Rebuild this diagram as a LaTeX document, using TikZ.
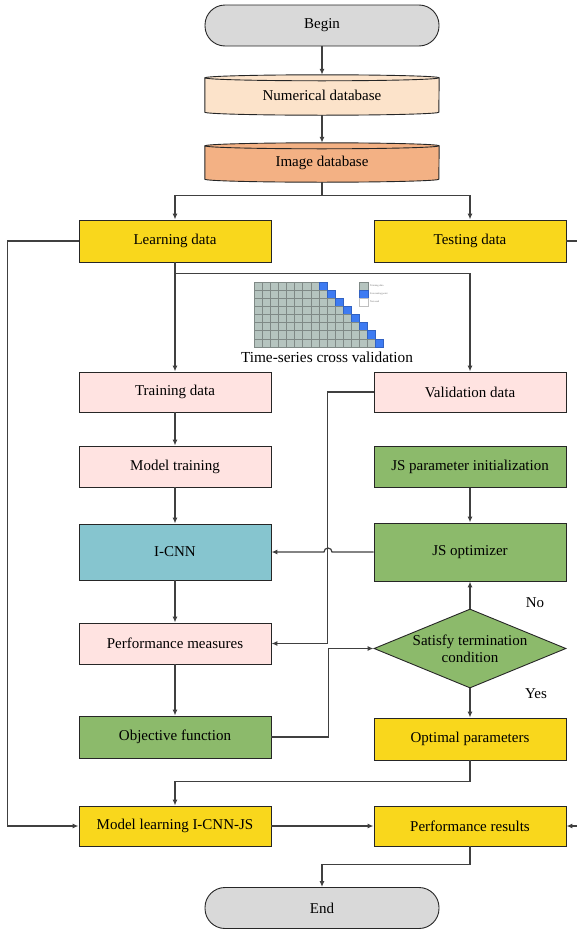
\documentclass[tikz,border=0pt]{standalone}
\usepackage{fontspec}
\setmainfont{Liberation Serif}
\usetikzlibrary{shapes.geometric,arrows.meta,backgrounds}
\definecolor{termc}{HTML}{D9D9D9}
\definecolor{numc}{HTML}{FCE3CA}
\definecolor{imgc}{HTML}{F3B184}
\definecolor{yelc}{HTML}{F9D71C}
\definecolor{pinkc}{HTML}{FFE3E1}
\definecolor{grnc}{HTML}{8CBA6B}
\definecolor{bluec}{HTML}{86C5CF}
\definecolor{linec}{HTML}{404040}
\definecolor{cellg}{HTML}{B5C4BF}
\definecolor{cellb}{HTML}{3E7BF2}
\begin{document}
\begin{tikzpicture}[x=1pt,y=1pt,
  font=\fontsize{15}{17}\selectfont,
  box/.style={draw=black!85, line width=0.9pt, minimum width=192pt, minimum height=41pt, inner sep=2pt, align=center},
  term/.style={draw=black!85, line width=0.9pt, fill=termc, minimum width=234pt, minimum height=41pt, rounded corners=20pt},
  dbnode/.style={minimum width=234pt, inner sep=0pt},
  conn/.style={draw=linec, line width=1.2pt},
  arr/.style={conn, -{Latex[length=6pt,width=5pt]}},
  lbl/.style={inner sep=0pt}
]
\useasboundingbox (0,0) rectangle (577,-929);

% terminals
\node[term] (begin) at (322,-25.5) {Begin};
\node[term] (end) at (322,-908) {End};

% cylinders
\node[dbnode, minimum height=34pt] (num) at (322,-95) {Numerical database};
\node[dbnode, minimum height=33pt] (img) at (322,-162.5) {Image database};
\begin{scope}[on background layer]
  \filldraw[fill=numc, draw=black!85, line width=0.9pt]
    (num.north west) -- (num.south west)
    arc[start angle=180, end angle=360, x radius=117pt, y radius=3pt]
    -- (num.north east)
    arc[start angle=0, end angle=180, x radius=117pt, y radius=3pt] -- cycle;
  \draw[black!85, line width=0.9pt] (num.north west)
    arc[start angle=180, end angle=360, x radius=117pt, y radius=3pt];
  \filldraw[fill=imgc, draw=black!85, line width=0.9pt]
    (img.north west) -- (img.south west)
    arc[start angle=180, end angle=360, x radius=117pt, y radius=3pt]
    -- (img.north east)
    arc[start angle=0, end angle=180, x radius=117pt, y radius=3pt] -- cycle;
  \draw[black!85, line width=0.9pt] (img.north west)
    arc[start angle=180, end angle=360, x radius=117pt, y radius=3pt];
\end{scope}

% boxes
\node[box, fill=yelc, minimum height=42pt] (learn) at (175,-241) {Learning data};
\node[box, fill=yelc, minimum height=42pt] (test) at (470,-241) {Testing data};
\node[box, fill=pinkc, minimum height=40pt] (train) at (175,-392) {Training data};
\node[box, fill=pinkc, minimum height=40pt] (valid) at (470,-392) {Validation data};
\node[box, fill=pinkc] (mtrain) at (175,-466.5) {Model training};
\node[box, fill=grnc] (jsinit) at (470,-467) {JS parameter initialization};
\node[box, fill=bluec, minimum height=56pt] (icnn) at (175,-552) {I-CNN};
\node[box, fill=grnc, minimum height=58pt] (jsopt) at (470,-552) {JS optimizer};
\node[box, fill=pinkc] (perfm) at (175,-643.5) {Performance measures};
\node[draw=black!85, line width=0.9pt, fill=grnc, shape=diamond, aspect=2.43, inner sep=0pt,
      minimum width=192pt, minimum height=79pt, align=center] (diam) at (470,-648.5)
      {Satisfy termination\\condition};
\node[box, fill=grnc, minimum height=42pt] (obj) at (175,-737) {Objective function};
\node[box, fill=yelc, minimum height=42pt] (opt) at (470,-739) {Optimal parameters};
\node[box, fill=yelc, minimum height=40pt] (mlearn) at (175,-826) {Model learning I-CNN-JS};
\node[box, fill=yelc, minimum height=40pt] (perf) at (470,-826) {Performance results};

\node[lbl] (no) at (535,-603) {No};
\node[lbl] (yes) at (536,-694) {Yes};

% time-series cross validation picture
\begin{scope}
  \foreach \r in {0,...,7} {
    \foreach \c in {0,...,15} {
      \pgfmathtruncatemacro{\lim}{8+\r}
      \ifnum\c<\lim
        \filldraw[fill=cellg, draw=cellg!70!black, line width=0.3pt]
          (254+\c*8.1, -282-\r*8.1) rectangle ++(8.1,-8.1);
      \else\ifnum\c=\lim
        \filldraw[fill=cellb, draw=cellb!80!black, line width=0.3pt]
          (254+\c*8.1, -282-\r*8.1) rectangle ++(8.1,-8.1);
      \fi\fi
    }
  }
  \filldraw[fill=cellg, draw=cellg!70!black, line width=0.3pt] (359,-282) rectangle ++(9,-8);
  \filldraw[fill=cellb, draw=cellb!80!black, line width=0.3pt] (359,-290) rectangle ++(9,-8);
  \filldraw[fill=white, draw=black!25, line width=0.3pt] (359,-298) rectangle ++(9,-8);
  \node[lbl, anchor=west, font=\fontsize{2.5}{3}\selectfont, text=black!60] (lg1) at (370,-286) {Training data};
  \node[lbl, anchor=west, font=\fontsize{2.5}{3}\selectfont, text=black!60] (lg2) at (370,-294) {Forecasting point};
  \node[lbl, anchor=west, font=\fontsize{2.5}{3}\selectfont, text=black!60] (lg3) at (370,-302) {Not used};
\end{scope}
\node[lbl, font=\fontsize{15.3}{17}\selectfont] (cap) at (327,-357) {Time-series cross validation};

% connectors
\draw[arr] (begin.south) -- ([yshift=3pt]num.north);
\draw[arr] ([yshift=-3pt]num.south) -- ([yshift=3pt]img.north);
\draw[conn] ([yshift=-3pt]img.south) -- ++(0,-13) coordinate (fork);
\draw[arr] (fork) -| (learn.north);
\draw[arr] (fork) -| (test.north);

\draw[arr] (learn.west) -- ++(-71,0) |- (mlearn.west);
\coordinate (tR) at (577,-241);
\draw[conn] (test.east) -- (tR);
\coordinate (pR) at (577,-826);
\draw[arr] (pR) -- (perf.east);

\draw[arr] (learn.south) -- (train.north);
\draw[arr] ([yshift=-11pt]learn.south) -| (valid.north);

\draw[arr] (train.south) -- (mtrain.north);
\draw[arr] (mtrain.south) -- (icnn.north);
\draw[arr] (icnn.south) -- (perfm.north);
\draw[arr] (perfm.south) -- (obj.north);

\draw[arr] (valid.west) -- ++(-46,0) |- (perfm.east);
\draw[arr] (jsopt.west) -- (332,-552) arc[start angle=0, end angle=180, radius=4pt] -- (icnn.east);
\draw[arr] (obj.east) -- ++(57,0) |- (diam.west);

\draw[arr] (jsinit.south) -- (jsopt.north);
\draw[arr] (diam.north) -- (jsopt.south);
\draw[arr] (diam.south) -- (opt.north);
\draw[arr] (opt.south) -- ++(0,-21) -| (mlearn.north);
\draw[arr] (mlearn.east) -- (perf.west);
\draw[arr] (perf.south) -- ++(0,-18) -| (end.north);
\end{tikzpicture}
\end{document}
